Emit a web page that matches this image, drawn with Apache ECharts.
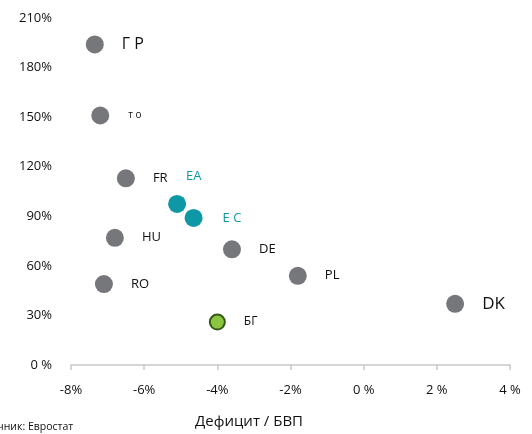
<!DOCTYPE html>
<html>
<head>
<meta charset="utf-8">
<script src="https://cdn.jsdelivr.net/npm/echarts@6/dist/echarts.min.js"></script>
<style>
  html, body { margin: 0; padding: 0; background: #ffffff; }
  #chart { width: 532px; height: 434px; }
</style>
</head>
<body>
<div id="chart"></div>
<script>
// Държави / агрегати
const countries = ['Г Р', 'т о', 'FR', 'ЕА', 'Е С', 'HU', 'RO', 'DE', 'PL', 'БГ', 'DK'];
// Бюджетен дефицит, % от БВП
const deficit = [-7.35, -7.2, -6.5, -5.1, -4.65, -6.8, -7.1, -3.6, -1.8, -4.0, 2.5];
// Държавен дълг, % от БВП
const debt = [194, 151, 113, 97.5, 89, 77, 49, 70, 54, 26, 37];

const xTickLabels = { '-8': '-8%', '-6': '-6%', '-4': '-4%', '-2': '-2%', '0': '0 %', '2': '2 %', '4': '4 %' };
const yTickLabels = { '0': '0 %', '30': '30%', '60': '60%', '90': '90%', '120': '120%', '150': '150%', '180': '180%', '210': '210%' };

const aggregates = ['ЕА', 'Е С'];
const home = 'БГ';

const FONT = '"Open Sans", "Noto Sans", sans-serif';
const GREY = '#75777a';
const TEAL = '#0e97a5';
const INK = '#111111';

function labelFor(name) {
  const base = { show: true, position: 'right', distance: 18, fontFamily: FONT, fontSize: 13, color: INK, formatter: '{b}' };
  if (name === 'Г Р') return Object.assign(base, { fontSize: 16 });
  if (name === 'DK') return Object.assign(base, { fontSize: 17 });
  if (name === 'т о') return Object.assign(base, { fontSize: 10, distance: 19 });
  if (name === 'ЕА') return Object.assign(base, { color: TEAL, distance: 0, offset: [0, -28] });
  if (name === 'Е С') return Object.assign(base, { color: TEAL, distance: 20 });
  if (name === 'БГ') return Object.assign(base, { fontSize: 12 });
  return base;
}

function styleFor(name) {
  if (aggregates.includes(name)) return { color: TEAL };
  if (name === home) return { color: '#8cc63f', borderColor: '#345a18', borderWidth: 2 };
  return { color: GREY };
}

const points = countries.map((name, i) => ({
  name: name,
  value: [deficit[i], debt[i]],
  itemStyle: styleFor(name),
  label: labelFor(name),
  symbolSize: name === home ? 15 : 18
}));

const chart = echarts.init(document.getElementById('chart'));
chart.setOption({
  animation: false,
  title: [
    {
      text: 'Дефицит / БВП', left: 195, top: 414, padding: 0,
      textStyle: { fontFamily: FONT, fontSize: 15, fontWeight: 'normal', color: INK }
    },
    {
      text: 'Източник: Евростат', left: -27, top: 422, padding: 0,
      textStyle: { fontFamily: FONT, fontSize: 10.5, fontWeight: 'normal', color: INK }
    }
  ],
  grid: { left: 71, right: 22, top: 18, bottom: 69 },
  xAxis: {
    type: 'value',
    min: -8, max: 4, interval: 2,
    axisLine: { show: true, onZero: false, lineStyle: { color: '#c8c8c8', width: 1.5 } },
    axisTick: { show: true, length: 5, lineStyle: { color: '#c8c8c8', width: 1.5 } },
    splitLine: { show: false },
    axisLabel: {
      margin: 19, fontFamily: FONT, fontSize: 13, color: INK,
      formatter: v => xTickLabels[String(v)]
    }
  },
  yAxis: {
    type: 'value',
    min: 0, max: 210, interval: 30,
    axisLine: { show: false },
    axisTick: { show: false },
    splitLine: { show: false },
    axisLabel: {
      margin: 19, fontFamily: FONT, fontSize: 13, color: INK,
      formatter: v => yTickLabels[String(v)]
    }
  },
  series: [{
    type: 'scatter',
    data: points,
    symbol: 'circle',
    itemStyle: { opacity: 1 }
  }]
});
</script>
</body>
</html>
